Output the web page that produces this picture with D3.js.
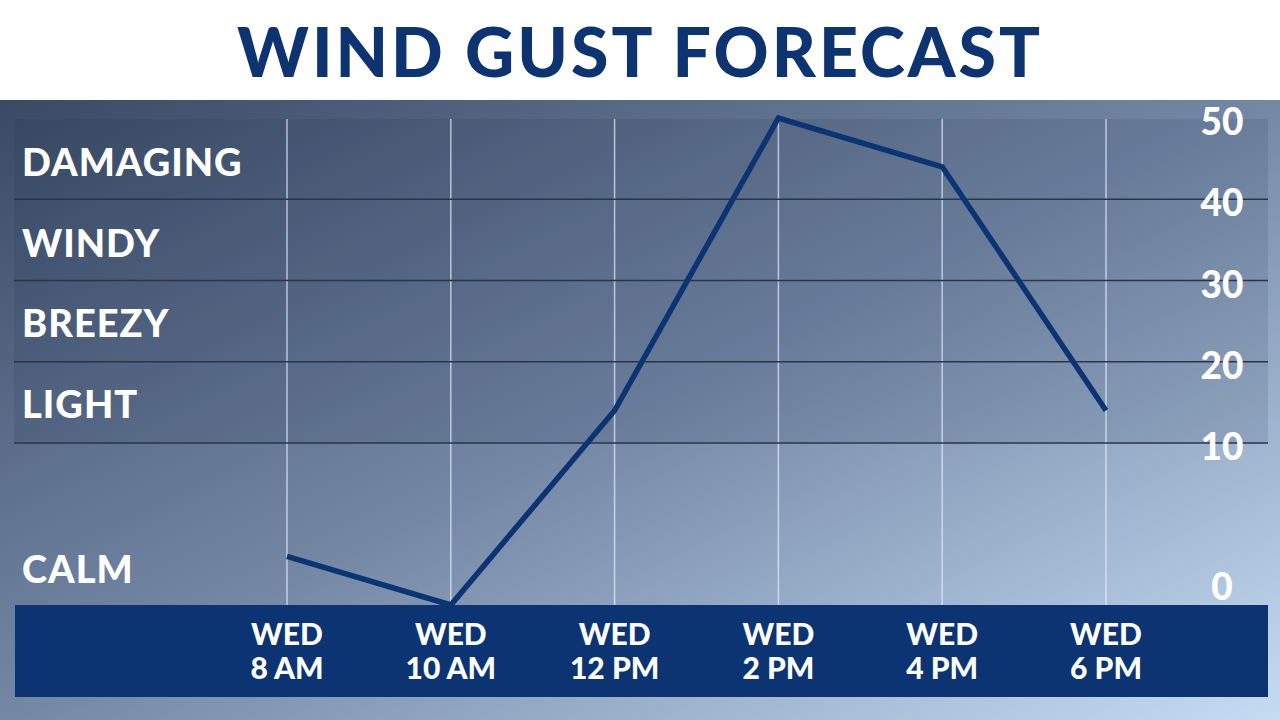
<!DOCTYPE html>
<html><head><meta charset="utf-8">
<script src="https://cdn.jsdelivr.net/npm/d3@7"></script>
<style>body{margin:0;overflow:hidden}svg{display:block}</style>
</head><body>
<script>
const times = ["8 AM", "10 AM", "12 PM", "2 PM", "4 PM", "6 PM"];
const gusts = [3, 0, 14, 50, 44, 14];
const yTicks = [0, 10, 20, 30, 40, 50];
const bands = [["DAMAGING", 45], ["WINDY", 35], ["BREEZY", 25], ["LIGHT", 15], ["CALM", 2]];

const W = 1280, H = 720, font = "Lato, 'Open Sans', sans-serif";
const svg = d3.select("body").append("svg").attr("width", W).attr("height", H);
const defs = svg.append("defs");
const g = defs.append("linearGradient").attr("id", "bg").attr("x1", 0).attr("y1", 0).attr("x2", 1).attr("y2", 1);
g.append("stop").attr("offset", 0).attr("stop-color", "#394a64");
g.append("stop").attr("offset", 0.5).attr("stop-color", "#7488a6");
g.append("stop").attr("offset", 1).attr("stop-color", "#c6dcf3");

svg.append("rect").attr("width", W).attr("height", H).attr("fill", "#fff");
svg.append("rect").attr("y", 100).attr("width", W).attr("height", 620).attr("fill", "url(#bg)");
svg.append("text").attr("x", 640).attr("y", 77).attr("text-anchor", "middle")
  .attr("font-family", font).attr("font-weight", 900).attr("font-size", 68).attr("letter-spacing", 3)
  .attr("fill", "#0d3470").text("WIND GUST FORECAST");

const x = d3.scalePoint().domain(times).range([287, 1106]);
const y = d3.scaleLinear().domain([0, 10, 50]).range([605, 443, 118]);

svg.append("rect").attr("x", 14).attr("y", 119).attr("width", 1254).attr("height", y(10) - 119)
  .attr("fill", "#1c2c48").attr("opacity", 0.12);

svg.selectAll(".v").data(times).join("line")
  .attr("x1", d => x(d)).attr("x2", d => x(d)).attr("y1", 119).attr("y2", 605)
  .attr("stroke", "#e6eef8").attr("stroke-opacity", 0.7).attr("stroke-width", 1.5);

svg.selectAll(".h").data([10, 20, 30, 40]).join("line")
  .attr("x1", 14).attr("x2", 1268).attr("y1", d => y(d)).attr("y2", d => y(d))
  .attr("stroke", "#2a3448").attr("stroke-width", 1.5);

svg.selectAll(".yt").data(yTicks).join("text")
  .attr("x", 1222).attr("y", d => d === 0 ? 600 : y(d) + 17).attr("text-anchor", "middle")
  .attr("font-family", font).attr("font-weight", 900).attr("font-size", 37).attr("fill", "#fff")
  .text(d => d);

svg.selectAll(".bl").data(bands).join("text")
  .attr("x", 22).attr("y", (d, i) => [176, 257, 337, 418, 583][i])
  .attr("font-family", font).attr("font-weight", 900).attr("font-size", 38).attr("letter-spacing", 1)
  .attr("fill", "#fff").text(d => d[0]);

svg.append("rect").attr("x", 15).attr("y", 605).attr("width", 1253).attr("height", 92).attr("fill", "#0d3472");
const xl = svg.selectAll(".xl").data(times).join("text")
  .attr("text-anchor", "middle").attr("font-family", font).attr("font-weight", 900)
  .attr("font-size", 30).attr("fill", "#fff");
xl.append("tspan").attr("x", d => x(d)).attr("y", 645).text("WED");
xl.append("tspan").attr("x", d => x(d)).attr("y", 679).text(d => d);

svg.append("path").datum(gusts)
  .attr("d", d3.line().x((d, i) => x(times[i])).y(d => y(d)))
  .attr("fill", "none").attr("stroke", "#0d3472").attr("stroke-width", 5.5).attr("stroke-linejoin", "miter");
</script>
</body></html>
